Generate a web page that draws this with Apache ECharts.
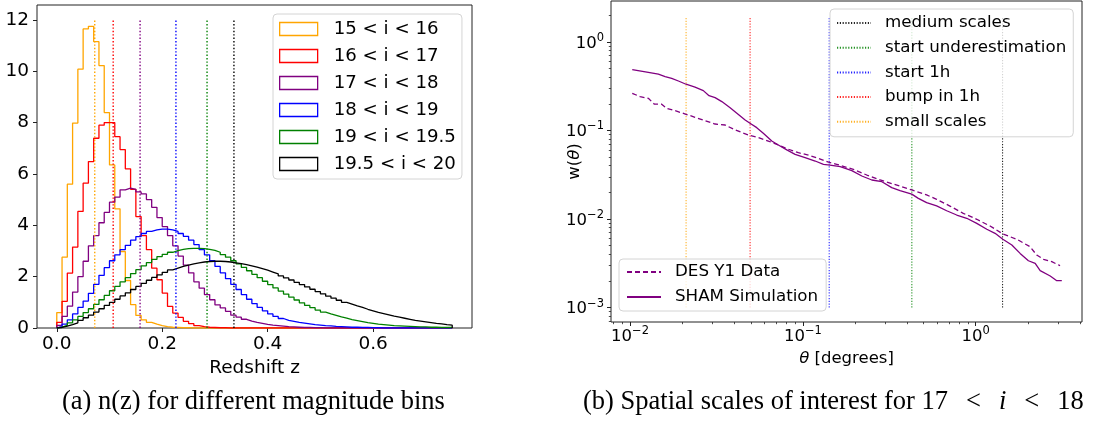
<!DOCTYPE html>
<html>
<head>
<meta charset="utf-8">
<script src="https://cdn.jsdelivr.net/npm/echarts@6/dist/echarts.min.js"></script>
<style>
  html, body { margin: 0; padding: 0; background: #fff; }
  #chart { width: 1096px; height: 421px; }
</style>
</head>
<body>
<div id="chart"></div>
<script>
// ---------- (a) n(z) per magnitude bin: density histograms, 0.01-wide bins on 0 <= z < 0.75 ----------
const magBins = ['15 < i < 16', '16 < i < 17', '17 < i < 18', '18 < i < 19', '19 < i < 19.5', '19.5 < i < 20'];
const magColors = ['#FFA500', '#FF0000', '#800080', '#0000FF', '#008000', '#000000'];
const nzMeans = [0.072, 0.107, 0.158, 0.226, 0.285, 0.336];

const nz_15_16 = [0.6, 2.76, 5.6, 7.98, 10.08, 11.65, 11.75, 11.15, 10.22, 8.39,
  6.35, 4.64, 2.98, 1.85, 0.91, 0.49, 0.32, 0.22, 0.15, 0.09,
  0.05, 0.03, 0.02, 0.01, 0.01, 0, 0, 0, 0, 0,
  0, 0, 0, 0, 0, 0, 0, 0, 0, 0,
  0, 0, 0, 0, 0, 0, 0, 0, 0, 0,
  0, 0, 0, 0, 0, 0, 0, 0, 0, 0,
  0, 0, 0, 0, 0, 0, 0, 0, 0, 0,
  0, 0, 0, 0, 0];
const nz_16_17 = [0.22, 1.04, 2.14, 3.15, 4.54, 5.64, 6.48, 7.39, 7.9, 8.0,
  8.0, 7.45, 6.95, 6.2, 5.4, 4.34, 3.6, 3.05, 2.33, 1.88,
  1.36, 0.84, 0.58, 0.41, 0.26, 0.17, 0.09, 0.05, 0.03, 0.02,
  0.01, 0.01, 0, 0, 0, 0, 0, 0, 0, 0,
  0, 0, 0, 0, 0, 0, 0, 0, 0, 0,
  0, 0, 0, 0, 0, 0, 0, 0, 0, 0,
  0, 0, 0, 0, 0, 0, 0, 0, 0, 0,
  0, 0, 0, 0, 0];
const nz_17_18 = [0.1, 0.45, 0.85, 1.4, 2.0, 2.6, 3.2, 3.6, 4.1, 4.5,
  4.9, 5.1, 5.38, 5.45, 5.4, 5.3, 5.22, 5.0, 4.7, 4.3,
  3.95, 3.6, 3.2, 2.8, 2.45, 2.15, 1.8, 1.55, 1.3, 1.1,
  0.9, 0.78, 0.65, 0.5, 0.42, 0.34, 0.27, 0.22, 0.18, 0.14,
  0.11, 0.09, 0.07, 0.05, 0.04, 0.03, 0.02, 0.02, 0.01, 0.01,
  0, 0, 0, 0, 0, 0, 0, 0, 0, 0,
  0, 0, 0, 0, 0, 0, 0, 0, 0, 0,
  0, 0, 0, 0, 0];
const nz_18_19 = [0.05, 0.15, 0.32, 0.55, 0.8, 1.05, 1.35, 1.7, 2.05, 2.35,
  2.62, 2.85, 3.05, 3.22, 3.42, 3.56, 3.68, 3.76, 3.82, 3.85,
  3.85, 3.82, 3.76, 3.68, 3.57, 3.42, 3.25, 3.05, 2.85, 2.62,
  2.4, 2.15, 1.92, 1.7, 1.5, 1.3, 1.12, 0.95, 0.8, 0.67,
  0.55, 0.45, 0.37, 0.3, 0.26, 0.22, 0.19, 0.16, 0.13, 0.11,
  0.09, 0.08, 0.06, 0.05, 0.04, 0.03, 0.03, 0.02, 0.02, 0.01,
  0.01, 0, 0, 0, 0, 0, 0, 0, 0, 0,
  0, 0, 0, 0, 0];
const nz_19_195 = [0.03, 0.1, 0.2, 0.32, 0.45, 0.6, 0.75, 0.92, 1.1, 1.27,
  1.45, 1.62, 1.8, 1.96, 2.12, 2.27, 2.42, 2.55, 2.67, 2.78,
  2.87, 2.95, 3.01, 3.06, 3.09, 3.1, 3.1, 3.09, 3.06, 3.02,
  2.95, 2.86, 2.76, 2.62, 2.5, 2.36, 2.23, 2.09, 1.96, 1.82,
  1.69, 1.56, 1.44, 1.32, 1.2, 1.09, 0.98, 0.88, 0.79, 0.7,
  0.62, 0.55, 0.49, 0.43, 0.38, 0.33, 0.29, 0.25, 0.21, 0.18,
  0.15, 0.13, 0.11, 0.09, 0.08, 0.07, 0.06, 0.05, 0.04, 0.04,
  0.03, 0.03, 0.02, 0.02, 0.02];
const nz_195_20 = [0.02, 0.07, 0.13, 0.2, 0.3, 0.4, 0.5, 0.62, 0.75, 0.88,
  1.0, 1.12, 1.25, 1.37, 1.5, 1.62, 1.74, 1.86, 1.97, 2.07,
  2.17, 2.26, 2.33, 2.4, 2.45, 2.5, 2.54, 2.57, 2.59, 2.6,
  2.6, 2.59, 2.57, 2.54, 2.51, 2.47, 2.42, 2.37, 2.31, 2.25,
  2.18, 2.11, 2.03, 1.95, 1.87, 1.78, 1.69, 1.6, 1.51, 1.42,
  1.33, 1.24, 1.16, 1.08, 1.0, 0.93, 0.86, 0.8, 0.73, 0.67,
  0.61, 0.56, 0.51, 0.46, 0.42, 0.38, 0.34, 0.3, 0.27, 0.24,
  0.21, 0.18, 0.16, 0.13, 0.11];
const nzHists = [nz_15_16, nz_16_17, nz_17_18, nz_18_19, nz_19_195, nz_195_20];

const zTicks = [0, 0.2, 0.4, 0.6];
const nTicks = [0, 2, 4, 6, 8, 10, 12];

// ---------- (b) w(theta) for 17 < i < 18 ----------
const thetaSham = [0.0103, 0.01276, 0.01459, 0.01596, 0.01742, 0.01905, 0.02109, 0.02377, 0.02655, 0.02864,
  0.03105, 0.03396, 0.03793, 0.04236, 0.04634, 0.04943, 0.05408, 0.05902, 0.06607, 0.07211,
  0.08072, 0.09016, 0.103, 0.1178, 0.1315, 0.1436, 0.1644, 0.1919, 0.2193, 0.2506,
  0.2864, 0.3266, 0.3648, 0.4266, 0.4656, 0.52, 0.5943, 0.6792, 0.7762, 0.8872,
  1.014, 1.159, 1.294, 1.435, 1.618, 1.807, 2.018, 2.208, 2.36, 2.698,
  2.944, 3.148];
const wSham = [0.486, 0.454, 0.432, 0.406, 0.388, 0.362, 0.333, 0.308, 0.282, 0.247,
  0.235, 0.212, 0.181, 0.152, 0.1315, 0.1205, 0.1076, 0.0929, 0.076, 0.0686,
  0.0603, 0.0538, 0.0493, 0.0452, 0.0415, 0.0407, 0.039, 0.0352, 0.0306, 0.0276,
  0.0264, 0.0226, 0.0209, 0.0191, 0.0171, 0.0153, 0.0141, 0.0124, 0.0111, 0.0102,
  0.00893, 0.00766, 0.00689, 0.0059, 0.00508, 0.00409, 0.00338, 0.00316, 0.00261, 0.00227,
  0.00201, 0.00201];
const thetaDes = [0.0103, 0.01143, 0.01276, 0.01384, 0.01524, 0.01629, 0.0182, 0.02109, 0.02377, 0.02716,
  0.03105, 0.03548, 0.04055, 0.04842, 0.05534, 0.0631, 0.07211, 0.08241, 0.09419, 0.1076,
  0.123, 0.1406, 0.157, 0.1959, 0.2344, 0.2799, 0.3342, 0.4266, 0.52, 0.5943,
  0.7096, 0.8472, 1.014, 1.211, 1.435, 1.73, 2.065, 2.254, 2.466, 2.754,
  3.076];
const wDes = [0.263, 0.241, 0.231, 0.198, 0.198, 0.178, 0.1675, 0.1524, 0.141, 0.129,
  0.1183, 0.1153, 0.1014, 0.0889, 0.083, 0.076, 0.0686, 0.0614, 0.0561, 0.0528,
  0.0485, 0.0438, 0.0415, 0.0364, 0.0314, 0.0276, 0.0248, 0.0213, 0.0187, 0.0167,
  0.014, 0.0116, 0.00993, 0.00834, 0.00678, 0.0059, 0.00486, 0.00392, 0.00351, 0.0033,
  0.00297];

const scaleNames = ['medium scales', 'start underestimation', 'start 1h', 'bump in 1h', 'small scales'];
const scaleTheta = [1.43, 0.427, 0.142, 0.0495, 0.0211];
const scaleColors = ['#000000', '#008000', '#0000FF', '#FF0000', '#FFA500'];

const thetaTicks = [0.01, 0.1, 1];
const wTicks = [0.001, 0.01, 0.1, 1];

// ---------- helpers ----------
const FONT = 'DejaVu Sans';
const SERIF = 'Liberation Serif';
const zEdges = Array.from({ length: 76 }, (_, i) => i / 100);

// outline of a step histogram: up the first edge, across each bin, down the last edge
function stepOutline(vals) {
  const pts = [[zEdges[0], 0]];
  vals.forEach((v, i) => pts.push([zEdges[i], v]));
  pts.push([zEdges[vals.length], 0]);
  return pts;
}
function minorLogTicks(lo, hi) {
  const out = [];
  for (let e = lo; e <= hi; e++) {
    for (let m = 2; m <= 9; m++) out.push(+(m * Math.pow(10, e)).toPrecision(3));
  }
  return out;
}
function powLabel(v) {
  const e = Math.round(Math.log10(v));
  return '{b|10}{s|' + (e < 0 ? '\u2212' + (-e) : e) + '}';
}
const powRich = {
  b: { fontSize: 16.5, fontFamily: FONT, color: '#000', verticalAlign: 'bottom' },
  s: { fontSize: 11.5, fontFamily: FONT, color: '#000', verticalAlign: 'bottom', padding: [0, 0, 8, 0] }
};
const zipPts = (xs, ys) => xs.map((x, i) => [x, ys[i]]);

// ---------- series ----------
const series = [];
nzHists.forEach((h, k) => {
  series.push({
    name: magBins[k], type: 'line', xAxisIndex: 0, yAxisIndex: 0,
    step: 'end', symbol: 'none', data: stepOutline(h),
    lineStyle: { color: magColors[k], width: 1.3 }, itemStyle: { color: magColors[k] },
    z: 2
  });
});
nzMeans.forEach((m, k) => {
  series.push({
    type: 'line', xAxisIndex: 0, yAxisIndex: 0, symbol: 'none', silent: true,
    data: [[m, 0], [m, 12]],
    lineStyle: { color: magColors[k], width: 1.4, type: [1.4, 2] }, z: 3
  });
});
scaleTheta.forEach((t, k) => {
  series.push({
    name: scaleNames[k], type: 'line', xAxisIndex: 1, yAxisIndex: 1, symbol: 'none', silent: true,
    data: [[t, 0.001], [t, 1.95]],
    lineStyle: { color: scaleColors[k], width: 1.1, type: [1.2, 1.6], opacity: 0.85 },
    itemStyle: { color: scaleColors[k] }, z: 2
  });
});
series.push({
  name: 'DES Y1 Data', type: 'line', xAxisIndex: 1, yAxisIndex: 1, symbol: 'none',
  data: zipPts(thetaDes, wDes),
  lineStyle: { color: '#800080', width: 1.3, type: [5, 3] }, itemStyle: { color: '#800080' }, z: 3
});
series.push({
  name: 'SHAM Simulation', type: 'line', xAxisIndex: 1, yAxisIndex: 1, symbol: 'none',
  data: zipPts(thetaSham, wSham),
  lineStyle: { color: '#800080', width: 1.3 }, itemStyle: { color: '#800080' }, z: 3
});

const axisBase = {
  splitLine: { show: false },
  axisLine: { show: false, onZero: false },
  axisTick: { show: true, length: 4, lineStyle: { color: '#222', width: 1 } }
};
const legendBox = {
  orient: 'vertical', selectedMode: false,
  backgroundColor: 'rgba(255,255,255,0.8)', borderColor: '#d4d4d4', borderWidth: 1, borderRadius: 4
};
const italicTheta = { i: { fontSize: 16.5, fontStyle: 'italic', fontFamily: FONT, color: '#000' } };

const option = {
  animation: false,
  backgroundColor: '#fff',
  textStyle: { fontFamily: FONT },
  grid: [
    { left: 37, top: 5, width: 435, height: 323, show: true, borderColor: '#222', borderWidth: 1, backgroundColor: 'transparent' },
    { left: 611, top: 1, width: 471, height: 321, show: true, borderColor: '#222', borderWidth: 1, backgroundColor: 'transparent' }
  ],
  xAxis: [
    Object.assign({}, axisBase, {
      gridIndex: 0, type: 'value', min: -0.0375, max: 0.7875,
      axisTick: { show: true, length: 4, customValues: zTicks, lineStyle: { color: '#222' } },
      axisLabel: { customValues: zTicks, formatter: v => v.toFixed(1), fontSize: 18.5, color: '#000', margin: 7, fontFamily: FONT },
      name: 'Redshift z', nameLocation: 'middle', nameGap: 31,
      nameTextStyle: { fontSize: 18.5, color: '#000', fontFamily: FONT }
    }),
    Object.assign({}, axisBase, {
      gridIndex: 1, type: 'log', logBase: 10, min: 0.00776, max: 4.12, position: 'bottom',
      axisTick: { show: true, length: 4, customValues: thetaTicks, lineStyle: { color: '#222' } },
      axisLabel: { customValues: thetaTicks, formatter: powLabel, rich: powRich, margin: 3 },
      name: '{i|\u03B8} [degrees]', nameLocation: 'middle', nameGap: 26,
      nameTextStyle: { fontSize: 16.5, color: '#000', fontFamily: FONT, rich: italicTheta }
    }),
    Object.assign({}, axisBase, {
      gridIndex: 1, type: 'log', logBase: 10, min: 0.00776, max: 4.12, position: 'bottom', offset: 0,
      axisTick: { show: true, length: 2.2, customValues: minorLogTicks(-3, 0), lineStyle: { color: '#222', width: 0.8 } },
      axisLabel: { show: false }
    })
  ],
  yAxis: [
    Object.assign({}, axisBase, {
      gridIndex: 0, type: 'value', min: 0, max: 12.58,
      axisTick: { show: true, length: 4, customValues: nTicks, lineStyle: { color: '#222' } },
      axisLabel: { customValues: nTicks, fontSize: 18.5, color: '#000', margin: 8, fontFamily: FONT }
    }),
    Object.assign({}, axisBase, {
      gridIndex: 1, type: 'log', logBase: 10, min: 0.000687, max: 2.9, position: 'left',
      axisTick: { show: true, length: 4, customValues: wTicks, lineStyle: { color: '#222' } },
      axisLabel: { customValues: wTicks, formatter: powLabel, rich: powRich, margin: 7 },
      name: 'w({i|\u03B8})', nameLocation: 'middle', nameGap: 28, nameRotate: 90, nameMoveOverlap: false,
      nameTextStyle: { fontSize: 16.5, color: '#000', fontFamily: FONT, rich: italicTheta }
    }),
    Object.assign({}, axisBase, {
      gridIndex: 1, type: 'log', logBase: 10, min: 0.000687, max: 2.9, position: 'left', offset: 0,
      axisTick: { show: true, length: 2.2, customValues: minorLogTicks(-4, 0), lineStyle: { color: '#222', width: 0.8 } },
      axisLabel: { show: false }
    })
  ],
  legend: [
    Object.assign({}, legendBox, {
      data: magBins.map((n, k) => ({
        name: n, icon: 'rect',
        itemStyle: { color: 'rgba(0,0,0,0)', borderColor: magColors[k], borderWidth: 1.3 }
      })),
      left: 273, top: 14, itemWidth: 38, itemHeight: 13, itemGap: 7,
      padding: [5, 6, 5, 6],
      textStyle: { fontSize: 18.2, lineHeight: 20, color: '#000', fontFamily: FONT, padding: [0, 0, 0, 11] }
    }),
    Object.assign({}, legendBox, {
      data: scaleNames, left: 830, top: 9, itemWidth: 34, itemHeight: 14, itemGap: 6.7,
      padding: [5, 7, 6, 6],
      itemStyle: { opacity: 0 },
      textStyle: { fontSize: 16.7, lineHeight: 18, color: '#000', fontFamily: FONT, padding: [0, 0, 0, 9] }
    }),
    Object.assign({}, legendBox, {
      data: ['DES Y1 Data', 'SHAM Simulation'], left: 619, top: 259,
      itemWidth: 34, itemHeight: 14, itemGap: 7, padding: [4, 8, 5, 7],
      itemStyle: { opacity: 0 },
      textStyle: { fontSize: 16.7, lineHeight: 18, color: '#000', fontFamily: FONT, padding: [0, 0, 0, 9] }
    })
  ],
  graphic: [
    {
      type: 'text', left: 62, top: 389,
      style: { text: '(a) n(z) for different magnitude bins', font: '26.5px "' + SERIF + '"', fill: '#000' }
    },
    {
      type: 'text', left: 583, top: 389,
      style: {
        text: '(b) Spatial scales of interest for 17{r|<}{i|i}{r|<}18',
        font: '26.5px "' + SERIF + '"', fill: '#000',
        rich: {
          i: { fontStyle: 'italic', fontSize: 26.5, fontFamily: SERIF },
          r: { fontSize: 26.5, fontFamily: SERIF, padding: [0, 18, 0, 18] }
        }
      }
    }
  ],
  series: series
};

const chart = echarts.init(document.getElementById('chart'), null, { renderer: 'canvas' });
chart.setOption(option);
</script>
</body>
</html>
